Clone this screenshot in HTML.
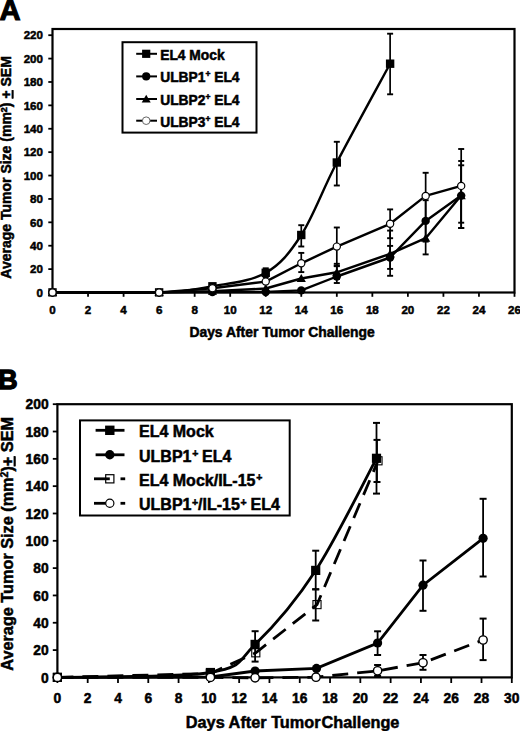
<!DOCTYPE html><html><head><meta charset="utf-8"><style>html,body{margin:0;padding:0;background:#fff;width:520px;height:731px;overflow:hidden}svg text{stroke:#000;stroke-width:0.5px;paint-order:stroke}</style></head><body><svg width="520" height="731" viewBox="0 0 520 731" style="display:block">
<rect width="520" height="731" fill="#fff"/>
<text x="-0.6" y="19.6" font-family='"Liberation Sans", sans-serif' font-weight="bold" font-size="29.2" style="stroke-width:1.1px">A</text>
<text transform="translate(10.9,167.4) rotate(-90)" text-anchor="middle" font-family='"Liberation Sans", sans-serif' font-weight="bold" font-size="14.0">Average Tumor Size (mm<tspan font-size="9" dy="-4.2">2</tspan><tspan dy="4.2">) </tspan><tspan text-decoration="underline">+</tspan> SEM</text>
<text x="282" y="336.6" text-anchor="middle" font-family='"Liberation Sans", sans-serif' font-weight="bold" font-size="13.9">Days After Tumor Challenge</text>
<line x1="48.3" y1="292.50" x2="52.50" y2="292.50" stroke="#000" stroke-width="1.8"/>
<text x="43" y="296.70" text-anchor="end" font-family='"Liberation Sans", sans-serif' font-weight="bold" font-size="11.6">0</text>
<line x1="48.3" y1="269.11" x2="52.50" y2="269.11" stroke="#000" stroke-width="1.8"/>
<text x="43" y="273.31" text-anchor="end" font-family='"Liberation Sans", sans-serif' font-weight="bold" font-size="11.6">20</text>
<line x1="48.3" y1="245.72" x2="52.50" y2="245.72" stroke="#000" stroke-width="1.8"/>
<text x="43" y="249.92" text-anchor="end" font-family='"Liberation Sans", sans-serif' font-weight="bold" font-size="11.6">40</text>
<line x1="48.3" y1="222.33" x2="52.50" y2="222.33" stroke="#000" stroke-width="1.8"/>
<text x="43" y="226.53" text-anchor="end" font-family='"Liberation Sans", sans-serif' font-weight="bold" font-size="11.6">60</text>
<line x1="48.3" y1="198.94" x2="52.50" y2="198.94" stroke="#000" stroke-width="1.8"/>
<text x="43" y="203.14" text-anchor="end" font-family='"Liberation Sans", sans-serif' font-weight="bold" font-size="11.6">80</text>
<line x1="48.3" y1="175.55" x2="52.50" y2="175.55" stroke="#000" stroke-width="1.8"/>
<text x="43" y="179.75" text-anchor="end" font-family='"Liberation Sans", sans-serif' font-weight="bold" font-size="11.6">100</text>
<line x1="48.3" y1="152.15" x2="52.50" y2="152.15" stroke="#000" stroke-width="1.8"/>
<text x="43" y="156.35" text-anchor="end" font-family='"Liberation Sans", sans-serif' font-weight="bold" font-size="11.6">120</text>
<line x1="48.3" y1="128.76" x2="52.50" y2="128.76" stroke="#000" stroke-width="1.8"/>
<text x="43" y="132.96" text-anchor="end" font-family='"Liberation Sans", sans-serif' font-weight="bold" font-size="11.6">140</text>
<line x1="48.3" y1="105.37" x2="52.50" y2="105.37" stroke="#000" stroke-width="1.8"/>
<text x="43" y="109.57" text-anchor="end" font-family='"Liberation Sans", sans-serif' font-weight="bold" font-size="11.6">160</text>
<line x1="48.3" y1="81.98" x2="52.50" y2="81.98" stroke="#000" stroke-width="1.8"/>
<text x="43" y="86.18" text-anchor="end" font-family='"Liberation Sans", sans-serif' font-weight="bold" font-size="11.6">180</text>
<line x1="48.3" y1="58.59" x2="52.50" y2="58.59" stroke="#000" stroke-width="1.8"/>
<text x="43" y="62.79" text-anchor="end" font-family='"Liberation Sans", sans-serif' font-weight="bold" font-size="11.6">200</text>
<line x1="48.3" y1="35.20" x2="52.50" y2="35.20" stroke="#000" stroke-width="1.8"/>
<text x="43" y="39.40" text-anchor="end" font-family='"Liberation Sans", sans-serif' font-weight="bold" font-size="11.6">220</text>
<line x1="52.50" y1="292.50" x2="52.50" y2="296.8" stroke="#000" stroke-width="1.8"/>
<text x="52.50" y="313.8" text-anchor="middle" font-family='"Liberation Sans", sans-serif' font-weight="bold" font-size="11.6">0</text>
<line x1="88.04" y1="292.50" x2="88.04" y2="296.8" stroke="#000" stroke-width="1.8"/>
<text x="88.04" y="313.8" text-anchor="middle" font-family='"Liberation Sans", sans-serif' font-weight="bold" font-size="11.6">2</text>
<line x1="123.58" y1="292.50" x2="123.58" y2="296.8" stroke="#000" stroke-width="1.8"/>
<text x="123.58" y="313.8" text-anchor="middle" font-family='"Liberation Sans", sans-serif' font-weight="bold" font-size="11.6">4</text>
<line x1="159.12" y1="292.50" x2="159.12" y2="296.8" stroke="#000" stroke-width="1.8"/>
<text x="159.12" y="313.8" text-anchor="middle" font-family='"Liberation Sans", sans-serif' font-weight="bold" font-size="11.6">6</text>
<line x1="194.65" y1="292.50" x2="194.65" y2="296.8" stroke="#000" stroke-width="1.8"/>
<text x="194.65" y="313.8" text-anchor="middle" font-family='"Liberation Sans", sans-serif' font-weight="bold" font-size="11.6">8</text>
<line x1="230.19" y1="292.50" x2="230.19" y2="296.8" stroke="#000" stroke-width="1.8"/>
<text x="230.19" y="313.8" text-anchor="middle" font-family='"Liberation Sans", sans-serif' font-weight="bold" font-size="11.6">10</text>
<line x1="265.73" y1="292.50" x2="265.73" y2="296.8" stroke="#000" stroke-width="1.8"/>
<text x="265.73" y="313.8" text-anchor="middle" font-family='"Liberation Sans", sans-serif' font-weight="bold" font-size="11.6">12</text>
<line x1="301.27" y1="292.50" x2="301.27" y2="296.8" stroke="#000" stroke-width="1.8"/>
<text x="301.27" y="313.8" text-anchor="middle" font-family='"Liberation Sans", sans-serif' font-weight="bold" font-size="11.6">14</text>
<line x1="336.81" y1="292.50" x2="336.81" y2="296.8" stroke="#000" stroke-width="1.8"/>
<text x="336.81" y="313.8" text-anchor="middle" font-family='"Liberation Sans", sans-serif' font-weight="bold" font-size="11.6">16</text>
<line x1="372.35" y1="292.50" x2="372.35" y2="296.8" stroke="#000" stroke-width="1.8"/>
<text x="372.35" y="313.8" text-anchor="middle" font-family='"Liberation Sans", sans-serif' font-weight="bold" font-size="11.6">18</text>
<line x1="407.88" y1="292.50" x2="407.88" y2="296.8" stroke="#000" stroke-width="1.8"/>
<text x="407.88" y="313.8" text-anchor="middle" font-family='"Liberation Sans", sans-serif' font-weight="bold" font-size="11.6">20</text>
<line x1="443.42" y1="292.50" x2="443.42" y2="296.8" stroke="#000" stroke-width="1.8"/>
<text x="443.42" y="313.8" text-anchor="middle" font-family='"Liberation Sans", sans-serif' font-weight="bold" font-size="11.6">22</text>
<line x1="478.96" y1="292.50" x2="478.96" y2="296.8" stroke="#000" stroke-width="1.8"/>
<text x="478.96" y="313.8" text-anchor="middle" font-family='"Liberation Sans", sans-serif' font-weight="bold" font-size="11.6">24</text>
<line x1="514.50" y1="292.50" x2="514.50" y2="296.8" stroke="#000" stroke-width="1.8"/>
<text x="514.50" y="313.8" text-anchor="middle" font-family='"Liberation Sans", sans-serif' font-weight="bold" font-size="11.6">26</text>
<rect x="52.50" y="29.00" width="462.00" height="263.50" fill="none" stroke="#000" stroke-width="2.2"/>
<line x1="265.73" y1="268.30" x2="265.73" y2="277.30" stroke="#000" stroke-width="1.7"/><line x1="262.73" y1="268.30" x2="268.73" y2="268.30" stroke="#000" stroke-width="1.9"/><line x1="262.73" y1="277.30" x2="268.73" y2="277.30" stroke="#000" stroke-width="1.9"/>
<line x1="301.27" y1="225.20" x2="301.27" y2="246.50" stroke="#000" stroke-width="1.7"/><line x1="298.27" y1="225.20" x2="304.27" y2="225.20" stroke="#000" stroke-width="1.9"/><line x1="298.27" y1="246.50" x2="304.27" y2="246.50" stroke="#000" stroke-width="1.9"/>
<line x1="336.81" y1="141.80" x2="336.81" y2="185.50" stroke="#000" stroke-width="1.7"/><line x1="333.81" y1="141.80" x2="339.81" y2="141.80" stroke="#000" stroke-width="1.9"/><line x1="333.81" y1="185.50" x2="339.81" y2="185.50" stroke="#000" stroke-width="1.9"/>
<line x1="390.12" y1="33.70" x2="390.12" y2="94.30" stroke="#000" stroke-width="1.7"/><line x1="387.12" y1="33.70" x2="393.12" y2="33.70" stroke="#000" stroke-width="1.9"/><line x1="387.12" y1="94.30" x2="393.12" y2="94.30" stroke="#000" stroke-width="1.9"/>
<line x1="301.27" y1="252.90" x2="301.27" y2="272.10" stroke="#000" stroke-width="1.7"/><line x1="298.27" y1="252.90" x2="304.27" y2="252.90" stroke="#000" stroke-width="1.9"/><line x1="298.27" y1="272.10" x2="304.27" y2="272.10" stroke="#000" stroke-width="1.9"/>
<line x1="336.81" y1="227.50" x2="336.81" y2="265.70" stroke="#000" stroke-width="1.7"/><line x1="333.81" y1="227.50" x2="339.81" y2="227.50" stroke="#000" stroke-width="1.9"/><line x1="333.81" y1="265.70" x2="339.81" y2="265.70" stroke="#000" stroke-width="1.9"/>
<line x1="336.81" y1="263.80" x2="336.81" y2="283.00" stroke="#000" stroke-width="1.7"/><line x1="333.81" y1="263.80" x2="339.81" y2="263.80" stroke="#000" stroke-width="1.9"/><line x1="333.81" y1="283.00" x2="339.81" y2="283.00" stroke="#000" stroke-width="1.9"/>
<line x1="336.81" y1="266.20" x2="336.81" y2="279.00" stroke="#000" stroke-width="1.7"/><line x1="333.81" y1="266.20" x2="339.81" y2="266.20" stroke="#000" stroke-width="1.9"/><line x1="333.81" y1="279.00" x2="339.81" y2="279.00" stroke="#000" stroke-width="1.9"/>
<line x1="390.12" y1="209.40" x2="390.12" y2="238.20" stroke="#000" stroke-width="1.7"/><line x1="387.12" y1="209.40" x2="393.12" y2="209.40" stroke="#000" stroke-width="1.9"/><line x1="387.12" y1="238.20" x2="393.12" y2="238.20" stroke="#000" stroke-width="1.9"/>
<line x1="390.12" y1="230.60" x2="390.12" y2="275.80" stroke="#000" stroke-width="1.7"/><line x1="387.12" y1="230.60" x2="393.12" y2="230.60" stroke="#000" stroke-width="1.9"/><line x1="387.12" y1="275.80" x2="393.12" y2="275.80" stroke="#000" stroke-width="1.9"/>
<line x1="390.12" y1="245.90" x2="390.12" y2="268.90" stroke="#000" stroke-width="1.7"/><line x1="387.12" y1="245.90" x2="393.12" y2="245.90" stroke="#000" stroke-width="1.9"/><line x1="387.12" y1="268.90" x2="393.12" y2="268.90" stroke="#000" stroke-width="1.9"/>
<line x1="425.65" y1="172.80" x2="425.65" y2="219.00" stroke="#000" stroke-width="1.7"/><line x1="422.65" y1="172.80" x2="428.65" y2="172.80" stroke="#000" stroke-width="1.9"/><line x1="422.65" y1="219.00" x2="428.65" y2="219.00" stroke="#000" stroke-width="1.9"/>
<line x1="425.65" y1="200.20" x2="425.65" y2="241.60" stroke="#000" stroke-width="1.7"/><line x1="422.65" y1="200.20" x2="428.65" y2="200.20" stroke="#000" stroke-width="1.9"/><line x1="422.65" y1="241.60" x2="428.65" y2="241.60" stroke="#000" stroke-width="1.9"/>
<line x1="425.65" y1="222.00" x2="425.65" y2="254.40" stroke="#000" stroke-width="1.7"/><line x1="422.65" y1="222.00" x2="428.65" y2="222.00" stroke="#000" stroke-width="1.9"/><line x1="422.65" y1="254.40" x2="428.65" y2="254.40" stroke="#000" stroke-width="1.9"/>
<line x1="461.19" y1="149.00" x2="461.19" y2="222.70" stroke="#000" stroke-width="1.7"/><line x1="458.19" y1="149.00" x2="464.19" y2="149.00" stroke="#000" stroke-width="1.9"/><line x1="458.19" y1="222.70" x2="464.19" y2="222.70" stroke="#000" stroke-width="1.9"/>
<line x1="461.19" y1="161.00" x2="461.19" y2="228.00" stroke="#000" stroke-width="1.7"/><line x1="458.19" y1="161.00" x2="464.19" y2="161.00" stroke="#000" stroke-width="1.9"/><line x1="458.19" y1="228.00" x2="464.19" y2="228.00" stroke="#000" stroke-width="1.9"/>
<line x1="461.19" y1="165.30" x2="461.19" y2="228.00" stroke="#000" stroke-width="1.7"/><line x1="458.19" y1="165.30" x2="464.19" y2="165.30" stroke="#000" stroke-width="1.9"/><line x1="458.19" y1="228.00" x2="464.19" y2="228.00" stroke="#000" stroke-width="1.9"/>
<path d="M52.50,292.40 C70.27,292.40 132.46,293.42 159.12,292.40 C185.77,291.38 194.65,289.57 212.42,286.30 C230.19,283.03 250.92,281.35 265.73,272.80 C280.54,264.25 289.42,253.38 301.27,235.00 C313.12,216.62 322.00,191.05 336.81,162.50 C351.62,133.95 381.23,80.17 390.12,63.70" fill="none" stroke="#000" stroke-width="2.4" stroke-linejoin="round"/>
<path d="M52.50,292.40 L159.12,292.40 L212.42,292.00 L265.73,292.00 L301.27,290.40 L336.81,276.50 L390.12,257.50 L425.65,220.90 L461.19,195.60" fill="none" stroke="#000" stroke-width="2.4" stroke-linejoin="round"/>
<path d="M52.50,292.40 L159.12,292.40 L212.42,291.20 L265.73,288.50 L301.27,278.50 L336.81,272.30 L390.12,253.80 L425.65,238.20 L461.19,195.60" fill="none" stroke="#000" stroke-width="2.4" stroke-linejoin="round"/>
<path d="M52.50,292.40 L159.12,292.40 L212.42,288.20 L265.73,281.60 L301.27,263.30 L336.81,246.60 L390.12,223.80 L425.65,195.90 L461.19,185.90" fill="none" stroke="#000" stroke-width="2.4" stroke-linejoin="round"/>
<rect x="48.30" y="288.20" width="8.40" height="8.40" fill="#000"/>
<rect x="154.92" y="288.20" width="8.40" height="8.40" fill="#000"/>
<rect x="208.22" y="282.10" width="8.40" height="8.40" fill="#000"/>
<rect x="261.53" y="268.60" width="8.40" height="8.40" fill="#000"/>
<rect x="297.07" y="230.80" width="8.40" height="8.40" fill="#000"/>
<rect x="332.61" y="158.30" width="8.40" height="8.40" fill="#000"/>
<rect x="385.92" y="59.50" width="8.40" height="8.40" fill="#000"/>
<circle cx="52.50" cy="292.40" r="4.20" fill="#000"/>
<circle cx="159.12" cy="292.40" r="4.20" fill="#000"/>
<circle cx="212.42" cy="292.00" r="4.20" fill="#000"/>
<circle cx="265.73" cy="292.00" r="4.20" fill="#000"/>
<circle cx="301.27" cy="290.40" r="4.20" fill="#000"/>
<circle cx="336.81" cy="276.50" r="4.20" fill="#000"/>
<circle cx="390.12" cy="257.50" r="4.20" fill="#000"/>
<circle cx="425.65" cy="220.90" r="4.20" fill="#000"/>
<circle cx="461.19" cy="195.60" r="4.20" fill="#000"/>
<polygon points="52.50,287.99 57.12,295.97 47.88,295.97" fill="#000"/>
<polygon points="159.12,287.99 163.74,295.97 154.50,295.97" fill="#000"/>
<polygon points="212.42,286.79 217.04,294.77 207.80,294.77" fill="#000"/>
<polygon points="265.73,284.09 270.35,292.07 261.11,292.07" fill="#000"/>
<polygon points="301.27,274.09 305.89,282.07 296.65,282.07" fill="#000"/>
<polygon points="336.81,267.89 341.43,275.87 332.19,275.87" fill="#000"/>
<polygon points="390.12,249.39 394.74,257.37 385.50,257.37" fill="#000"/>
<polygon points="425.65,233.79 430.27,241.77 421.03,241.77" fill="#000"/>
<polygon points="461.19,191.19 465.81,199.17 456.57,199.17" fill="#000"/>
<circle cx="52.50" cy="292.40" r="3.60" fill="#fff" stroke="#000" stroke-width="1.2"/>
<circle cx="159.12" cy="292.40" r="3.60" fill="#fff" stroke="#000" stroke-width="1.2"/>
<circle cx="212.42" cy="288.20" r="3.60" fill="#fff" stroke="#000" stroke-width="1.2"/>
<circle cx="265.73" cy="281.60" r="3.60" fill="#fff" stroke="#000" stroke-width="1.2"/>
<circle cx="301.27" cy="263.30" r="3.60" fill="#fff" stroke="#000" stroke-width="1.2"/>
<circle cx="336.81" cy="246.60" r="3.60" fill="#fff" stroke="#000" stroke-width="1.2"/>
<circle cx="390.12" cy="223.80" r="3.60" fill="#fff" stroke="#000" stroke-width="1.2"/>
<circle cx="425.65" cy="195.90" r="3.60" fill="#fff" stroke="#000" stroke-width="1.2"/>
<circle cx="461.19" cy="185.90" r="3.60" fill="#fff" stroke="#000" stroke-width="1.2"/>
<rect x="122.5" y="42.2" width="134" height="90.4" fill="#fff" stroke="#000" stroke-width="2"/>
<line x1="136.2" y1="53.8" x2="157" y2="53.8" stroke="#000" stroke-width="2.0"/>
<rect x="142.10" y="49.70" width="8.20" height="8.20" fill="#000"/>
<text x="160.2" y="59.80" font-family='"Liberation Sans", sans-serif' font-weight="bold" font-size="13.8">EL4 Mock</text>
<line x1="136.2" y1="76.4" x2="157" y2="76.4" stroke="#000" stroke-width="2.0"/>
<circle cx="146.20" cy="76.40" r="4.10" fill="#000"/>
<text x="160.2" y="82.40" font-family='"Liberation Sans", sans-serif' font-weight="bold" font-size="13.8">ULBP1<tspan font-size="8.5" dy="-5">+</tspan><tspan dy="5"> EL4</tspan></text>
<line x1="136.2" y1="99.0" x2="157" y2="99.0" stroke="#000" stroke-width="2.0"/>
<polygon points="146.20,94.69 150.71,102.48 141.69,102.48" fill="#000"/>
<text x="160.2" y="105.00" font-family='"Liberation Sans", sans-serif' font-weight="bold" font-size="13.8">ULBP2<tspan font-size="8.5" dy="-5">+</tspan><tspan dy="5"> EL4</tspan></text>
<line x1="136.2" y1="120.7" x2="157" y2="120.7" stroke="#000" stroke-width="2.0"/>
<circle cx="146.2" cy="120.7" r="3.8" fill="#fff" stroke="#666" stroke-width="1.0"/>
<text x="160.2" y="126.70" font-family='"Liberation Sans", sans-serif' font-weight="bold" font-size="13.8">ULBP3<tspan font-size="8.5" dy="-5">+</tspan><tspan dy="5"> EL4</tspan></text>
<text x="-1.9" y="389.0" font-family='"Liberation Sans", sans-serif' font-weight="bold" font-size="27.2" style="stroke-width:1.3px">B</text>
<text transform="translate(12.9,543.8) rotate(-90)" text-anchor="middle" font-family='"Liberation Sans", sans-serif' font-weight="bold" font-size="16.25">Average Tumor Size (mm<tspan font-size="10.5" dy="-5">2</tspan><tspan dy="5">)</tspan><tspan text-decoration="underline">+</tspan> SEM</text>
<text x="292.6" y="727.6" text-anchor="middle" font-family='"Liberation Sans", sans-serif' font-weight="bold" font-size="16.3">Days After Tumor<tspan dx="1.0">Challenge</tspan></text>
<line x1="52.8" y1="677.40" x2="57.40" y2="677.40" stroke="#000" stroke-width="1.8"/>
<text x="48.6" y="682.50" text-anchor="end" font-family='"Liberation Sans", sans-serif' font-weight="bold" font-size="13.8">0</text>
<line x1="52.8" y1="650.08" x2="57.40" y2="650.08" stroke="#000" stroke-width="1.8"/>
<text x="48.6" y="655.18" text-anchor="end" font-family='"Liberation Sans", sans-serif' font-weight="bold" font-size="13.8">20</text>
<line x1="52.8" y1="622.76" x2="57.40" y2="622.76" stroke="#000" stroke-width="1.8"/>
<text x="48.6" y="627.86" text-anchor="end" font-family='"Liberation Sans", sans-serif' font-weight="bold" font-size="13.8">40</text>
<line x1="52.8" y1="595.44" x2="57.40" y2="595.44" stroke="#000" stroke-width="1.8"/>
<text x="48.6" y="600.54" text-anchor="end" font-family='"Liberation Sans", sans-serif' font-weight="bold" font-size="13.8">60</text>
<line x1="52.8" y1="568.12" x2="57.40" y2="568.12" stroke="#000" stroke-width="1.8"/>
<text x="48.6" y="573.22" text-anchor="end" font-family='"Liberation Sans", sans-serif' font-weight="bold" font-size="13.8">80</text>
<line x1="52.8" y1="540.80" x2="57.40" y2="540.80" stroke="#000" stroke-width="1.8"/>
<text x="48.6" y="545.90" text-anchor="end" font-family='"Liberation Sans", sans-serif' font-weight="bold" font-size="13.8">100</text>
<line x1="52.8" y1="513.48" x2="57.40" y2="513.48" stroke="#000" stroke-width="1.8"/>
<text x="48.6" y="518.58" text-anchor="end" font-family='"Liberation Sans", sans-serif' font-weight="bold" font-size="13.8">120</text>
<line x1="52.8" y1="486.16" x2="57.40" y2="486.16" stroke="#000" stroke-width="1.8"/>
<text x="48.6" y="491.26" text-anchor="end" font-family='"Liberation Sans", sans-serif' font-weight="bold" font-size="13.8">140</text>
<line x1="52.8" y1="458.84" x2="57.40" y2="458.84" stroke="#000" stroke-width="1.8"/>
<text x="48.6" y="463.94" text-anchor="end" font-family='"Liberation Sans", sans-serif' font-weight="bold" font-size="13.8">160</text>
<line x1="52.8" y1="431.52" x2="57.40" y2="431.52" stroke="#000" stroke-width="1.8"/>
<text x="48.6" y="436.62" text-anchor="end" font-family='"Liberation Sans", sans-serif' font-weight="bold" font-size="13.8">180</text>
<line x1="52.8" y1="404.20" x2="57.40" y2="404.20" stroke="#000" stroke-width="1.8"/>
<text x="48.6" y="409.30" text-anchor="end" font-family='"Liberation Sans", sans-serif' font-weight="bold" font-size="13.8">200</text>
<line x1="57.40" y1="677.40" x2="57.40" y2="683.0" stroke="#000" stroke-width="1.8"/>
<text x="57.40" y="702.8" text-anchor="middle" font-family='"Liberation Sans", sans-serif' font-weight="bold" font-size="13.8">0</text>
<line x1="87.69" y1="677.40" x2="87.69" y2="683.0" stroke="#000" stroke-width="1.8"/>
<text x="87.69" y="702.8" text-anchor="middle" font-family='"Liberation Sans", sans-serif' font-weight="bold" font-size="13.8">2</text>
<line x1="117.99" y1="677.40" x2="117.99" y2="683.0" stroke="#000" stroke-width="1.8"/>
<text x="117.99" y="702.8" text-anchor="middle" font-family='"Liberation Sans", sans-serif' font-weight="bold" font-size="13.8">4</text>
<line x1="148.28" y1="677.40" x2="148.28" y2="683.0" stroke="#000" stroke-width="1.8"/>
<text x="148.28" y="702.8" text-anchor="middle" font-family='"Liberation Sans", sans-serif' font-weight="bold" font-size="13.8">6</text>
<line x1="178.57" y1="677.40" x2="178.57" y2="683.0" stroke="#000" stroke-width="1.8"/>
<text x="178.57" y="702.8" text-anchor="middle" font-family='"Liberation Sans", sans-serif' font-weight="bold" font-size="13.8">8</text>
<line x1="208.87" y1="677.40" x2="208.87" y2="683.0" stroke="#000" stroke-width="1.8"/>
<text x="208.87" y="702.8" text-anchor="middle" font-family='"Liberation Sans", sans-serif' font-weight="bold" font-size="13.8">10</text>
<line x1="239.16" y1="677.40" x2="239.16" y2="683.0" stroke="#000" stroke-width="1.8"/>
<text x="239.16" y="702.8" text-anchor="middle" font-family='"Liberation Sans", sans-serif' font-weight="bold" font-size="13.8">12</text>
<line x1="269.45" y1="677.40" x2="269.45" y2="683.0" stroke="#000" stroke-width="1.8"/>
<text x="269.45" y="702.8" text-anchor="middle" font-family='"Liberation Sans", sans-serif' font-weight="bold" font-size="13.8">14</text>
<line x1="299.75" y1="677.40" x2="299.75" y2="683.0" stroke="#000" stroke-width="1.8"/>
<text x="299.75" y="702.8" text-anchor="middle" font-family='"Liberation Sans", sans-serif' font-weight="bold" font-size="13.8">16</text>
<line x1="330.04" y1="677.40" x2="330.04" y2="683.0" stroke="#000" stroke-width="1.8"/>
<text x="330.04" y="702.8" text-anchor="middle" font-family='"Liberation Sans", sans-serif' font-weight="bold" font-size="13.8">18</text>
<line x1="360.33" y1="677.40" x2="360.33" y2="683.0" stroke="#000" stroke-width="1.8"/>
<text x="360.33" y="702.8" text-anchor="middle" font-family='"Liberation Sans", sans-serif' font-weight="bold" font-size="13.8">20</text>
<line x1="390.63" y1="677.40" x2="390.63" y2="683.0" stroke="#000" stroke-width="1.8"/>
<text x="390.63" y="702.8" text-anchor="middle" font-family='"Liberation Sans", sans-serif' font-weight="bold" font-size="13.8">22</text>
<line x1="420.92" y1="677.40" x2="420.92" y2="683.0" stroke="#000" stroke-width="1.8"/>
<text x="420.92" y="702.8" text-anchor="middle" font-family='"Liberation Sans", sans-serif' font-weight="bold" font-size="13.8">24</text>
<line x1="451.21" y1="677.40" x2="451.21" y2="683.0" stroke="#000" stroke-width="1.8"/>
<text x="451.21" y="702.8" text-anchor="middle" font-family='"Liberation Sans", sans-serif' font-weight="bold" font-size="13.8">26</text>
<line x1="481.51" y1="677.40" x2="481.51" y2="683.0" stroke="#000" stroke-width="1.8"/>
<text x="481.51" y="702.8" text-anchor="middle" font-family='"Liberation Sans", sans-serif' font-weight="bold" font-size="13.8">28</text>
<line x1="511.80" y1="677.40" x2="511.80" y2="683.0" stroke="#000" stroke-width="1.8"/>
<text x="511.80" y="702.8" text-anchor="middle" font-family='"Liberation Sans", sans-serif' font-weight="bold" font-size="13.8">30</text>
<rect x="57.40" y="404.20" width="454.40" height="273.20" fill="none" stroke="#000" stroke-width="2.2"/>
<line x1="255.10" y1="631.20" x2="255.10" y2="661.60" stroke="#000" stroke-width="1.8"/><line x1="251.60" y1="631.20" x2="258.60" y2="631.20" stroke="#000" stroke-width="2.0"/><line x1="251.60" y1="661.60" x2="258.60" y2="661.60" stroke="#000" stroke-width="2.0"/>
<line x1="315.70" y1="550.70" x2="315.70" y2="589.30" stroke="#000" stroke-width="1.8"/><line x1="312.20" y1="550.70" x2="319.20" y2="550.70" stroke="#000" stroke-width="2.0"/><line x1="312.20" y1="589.30" x2="319.20" y2="589.30" stroke="#000" stroke-width="2.0"/>
<line x1="315.70" y1="589.30" x2="315.70" y2="620.50" stroke="#000" stroke-width="1.8"/><line x1="312.20" y1="589.30" x2="319.20" y2="589.30" stroke="#000" stroke-width="2.0"/><line x1="312.20" y1="620.50" x2="319.20" y2="620.50" stroke="#000" stroke-width="2.0"/>
<line x1="376.50" y1="422.90" x2="376.50" y2="493.60" stroke="#000" stroke-width="1.8"/><line x1="373.00" y1="422.90" x2="380.00" y2="422.90" stroke="#000" stroke-width="2.0"/><line x1="373.00" y1="493.60" x2="380.00" y2="493.60" stroke="#000" stroke-width="2.0"/>
<line x1="377.00" y1="439.90" x2="377.00" y2="482.00" stroke="#000" stroke-width="1.8"/><line x1="373.50" y1="439.90" x2="380.50" y2="439.90" stroke="#000" stroke-width="2.0"/><line x1="373.50" y1="482.00" x2="380.50" y2="482.00" stroke="#000" stroke-width="2.0"/>
<line x1="377.60" y1="631.30" x2="377.60" y2="655.00" stroke="#000" stroke-width="1.8"/><line x1="374.10" y1="631.30" x2="381.10" y2="631.30" stroke="#000" stroke-width="2.0"/><line x1="374.10" y1="655.00" x2="381.10" y2="655.00" stroke="#000" stroke-width="2.0"/>
<line x1="377.60" y1="665.00" x2="377.60" y2="676.00" stroke="#000" stroke-width="1.8"/><line x1="374.10" y1="665.00" x2="381.10" y2="665.00" stroke="#000" stroke-width="2.0"/><line x1="374.10" y1="676.00" x2="381.10" y2="676.00" stroke="#000" stroke-width="2.0"/>
<line x1="423.00" y1="560.50" x2="423.00" y2="610.80" stroke="#000" stroke-width="1.8"/><line x1="419.50" y1="560.50" x2="426.50" y2="560.50" stroke="#000" stroke-width="2.0"/><line x1="419.50" y1="610.80" x2="426.50" y2="610.80" stroke="#000" stroke-width="2.0"/>
<line x1="423.00" y1="655.00" x2="423.00" y2="669.80" stroke="#000" stroke-width="1.8"/><line x1="419.50" y1="655.00" x2="426.50" y2="655.00" stroke="#000" stroke-width="2.0"/><line x1="419.50" y1="669.80" x2="426.50" y2="669.80" stroke="#000" stroke-width="2.0"/>
<line x1="483.10" y1="498.80" x2="483.10" y2="576.50" stroke="#000" stroke-width="1.8"/><line x1="479.60" y1="498.80" x2="486.60" y2="498.80" stroke="#000" stroke-width="2.0"/><line x1="479.60" y1="576.50" x2="486.60" y2="576.50" stroke="#000" stroke-width="2.0"/>
<line x1="483.10" y1="618.60" x2="483.10" y2="660.10" stroke="#000" stroke-width="1.8"/><line x1="479.60" y1="618.60" x2="486.60" y2="618.60" stroke="#000" stroke-width="2.0"/><line x1="479.60" y1="660.10" x2="486.60" y2="660.10" stroke="#000" stroke-width="2.0"/>
<path d="M57.40,677.40 C82.90,676.58 177.45,678.00 210.40,672.50 C243.35,667.00 237.55,661.42 255.10,644.40 C272.65,627.38 295.47,601.42 315.70,570.40 C335.93,539.38 366.37,476.98 376.50,458.30" fill="none" stroke="#000" stroke-width="2.8"/>
<path d="M57.40,677.40 L210.40,677.00 L255.10,671.00 L316.50,668.40 L377.60,643.00 L423.00,585.20 L483.10,538.30" fill="none" stroke="#000" stroke-width="2.8"/>
<path d="M57.40,677.40 L210.40,673.50 L255.80,652.80 L317.00,604.60 L378.00,460.80" fill="none" stroke="#000" stroke-width="2.8" stroke-dasharray="16 9"/>
<path d="M57.40,677.40 L210.40,677.40 L255.10,677.80 L316.00,677.20 L377.60,670.80 L423.00,662.80 L483.10,640.00" fill="none" stroke="#000" stroke-width="2.8" stroke-dasharray="16 9"/>
<rect x="52.80" y="672.80" width="9.20" height="9.20" fill="#000"/>
<rect x="205.80" y="667.90" width="9.20" height="9.20" fill="#000"/>
<rect x="250.50" y="639.80" width="9.20" height="9.20" fill="#000"/>
<rect x="311.10" y="565.80" width="9.20" height="9.20" fill="#000"/>
<rect x="371.90" y="453.70" width="9.20" height="9.20" fill="#000"/>
<circle cx="57.40" cy="677.40" r="4.60" fill="#000"/>
<circle cx="210.40" cy="677.00" r="4.60" fill="#000"/>
<circle cx="255.10" cy="671.00" r="4.60" fill="#000"/>
<circle cx="316.50" cy="668.40" r="4.60" fill="#000"/>
<circle cx="377.60" cy="643.00" r="4.60" fill="#000"/>
<circle cx="423.00" cy="585.20" r="4.60" fill="#000"/>
<circle cx="483.10" cy="538.30" r="4.60" fill="#000"/>
<rect x="53.35" y="673.35" width="8.10" height="8.10" fill="none" stroke="#000" stroke-width="1.1"/>
<rect x="206.35" y="669.45" width="8.10" height="8.10" fill="none" stroke="#000" stroke-width="1.1"/>
<rect x="251.75" y="648.75" width="8.10" height="8.10" fill="none" stroke="#000" stroke-width="1.1"/>
<rect x="312.95" y="600.55" width="8.10" height="8.10" fill="none" stroke="#000" stroke-width="1.1"/>
<rect x="373.95" y="456.75" width="8.10" height="8.10" fill="none" stroke="#000" stroke-width="1.1"/>
<circle cx="57.40" cy="677.40" r="4.15" fill="#fff" stroke="#000" stroke-width="1.4"/>
<circle cx="210.40" cy="677.40" r="4.15" fill="#fff" stroke="#000" stroke-width="1.4"/>
<circle cx="255.10" cy="677.80" r="4.15" fill="#fff" stroke="#000" stroke-width="1.4"/>
<circle cx="316.00" cy="677.20" r="4.15" fill="#fff" stroke="#000" stroke-width="1.4"/>
<circle cx="377.60" cy="670.80" r="4.15" fill="#fff" stroke="#000" stroke-width="1.4"/>
<circle cx="423.00" cy="662.80" r="4.15" fill="#fff" stroke="#000" stroke-width="1.4"/>
<circle cx="483.10" cy="640.00" r="4.15" fill="#fff" stroke="#000" stroke-width="1.4"/>
<rect x="80" y="420.4" width="209.7" height="95.1" fill="#fff" stroke="#000" stroke-width="2"/>
<line x1="95.6" y1="430.3" x2="124.5" y2="430.3" stroke="#000" stroke-width="2.8"/>
<rect x="105.10" y="425.60" width="9.40" height="9.40" fill="#000"/>
<text x="139.0" y="437.30" font-family='"Liberation Sans", sans-serif' font-weight="bold" font-size="16">EL4 Mock</text>
<line x1="95.6" y1="454.8" x2="124.5" y2="454.8" stroke="#000" stroke-width="2.8"/>
<circle cx="109.80" cy="454.80" r="4.70" fill="#000"/>
<text x="139.0" y="461.80" font-family='"Liberation Sans", sans-serif' font-weight="bold" font-size="16">ULBP1<tspan font-size="10.5" dx="0.8" dy="-4.6">+</tspan><tspan dx="-0.8" dy="4.6"> EL4</tspan></text>
<line x1="94" y1="478.8" x2="109.8" y2="478.8" stroke="#000" stroke-width="2.8"/>
<line x1="120.5" y1="478.8" x2="125.2" y2="478.8" stroke="#000" stroke-width="2.8"/>
<rect x="105.70" y="474.70" width="8.20" height="8.20" fill="none" stroke="#000" stroke-width="1.2"/>
<text x="139.0" y="485.80" font-family='"Liberation Sans", sans-serif' font-weight="bold" font-size="16">EL4 Mock/IL-15<tspan font-size="10.5" dx="0.8" dy="-4.6">+</tspan></text>
<line x1="94" y1="503.3" x2="109.8" y2="503.3" stroke="#000" stroke-width="2.8"/>
<line x1="120.5" y1="503.3" x2="125.2" y2="503.3" stroke="#000" stroke-width="2.8"/>
<circle cx="109.80" cy="503.30" r="4.10" fill="#fff" stroke="#000" stroke-width="1.2"/>
<text x="139.0" y="510.30" font-family='"Liberation Sans", sans-serif' font-weight="bold" font-size="16">ULBP1<tspan font-size="10.5" dx="0.5" dy="-4.6">+</tspan><tspan dy="4.6">/IL-15</tspan><tspan font-size="10.5" dx="0.6" dy="-4.6">+</tspan><tspan dx="-0.6" dy="4.6"> EL4</tspan></text>
</svg></body></html>
